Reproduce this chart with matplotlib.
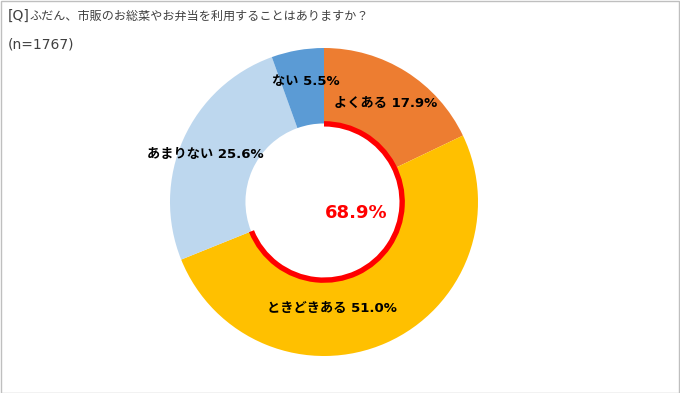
import matplotlib.pyplot as plt
from matplotlib.patches import Wedge, Rectangle

plt.rcParams['font.family'] = ['DejaVu Sans', 'Noto Sans CJK JP']

labels = ['よくある', 'ときどきある', 'あまりない', 'ない']
values = [17.9, 51.0, 25.6, 5.5]
colors = ['#ED7D31', '#FFC000', '#BDD7EE', '#5B9BD5']
highlight = 68.9  # よくある + ときどきある

# label positions in axes data coords
label_pos = [(0.40, 0.64), (0.05, -0.69), (-0.77, 0.31), (-0.12, 0.78)]

fig = plt.figure(figsize=(6.8, 3.93), dpi=100)
W, H = 680, 393
cx, cy, r = 324, 202, 154
ax = fig.add_axes([(cx - r) / W, (H - cy - r) / H, 2 * r / W, 2 * r / H])

ax.pie(values, colors=colors, startangle=90, counterclock=False, radius=1,
       wedgeprops=dict(width=0.49, linewidth=0))
ax.set_xlim(-1, 1)
ax.set_ylim(-1, 1)
ax.set_aspect('equal')
ax.axis('off')

# red ring showing the combined share
ax.add_patch(Wedge((0, 0), 0.525, 90 - highlight * 3.6, 90, width=0.035,
                   facecolor='#FF0000', linewidth=0))

for lab, v, (x, y) in zip(labels, values, label_pos):
    ax.text(x, y, f'{lab} {v:.1f}%', ha='center', va='center',
            fontsize=9.5, fontweight='bold', color='black')

ax.text(0.21, -0.07, f'{highlight:.1f}%', ha='center', va='center',
        fontsize=13, fontweight='bold', color='#FF0000')

t1 = fig.text(8 / W, 1 - 16 / H, '[Q]', fontsize=10, ha='left', va='center',
              color='#404040')
fig.canvas.draw()
bb = t1.get_window_extent()
fig.text(bb.x1 / W, 1 - 16 / H, 'ふだん、市販のお総菜やお弁当を利用することはありますか？',
         fontsize=8.7, ha='left', va='center', color='#404040',
         family='Noto Sans CJK JP')
fig.text(8 / W, 1 - 44 / H, '(n=1767)', fontsize=10, ha='left', va='center',
         color='#404040')

fig.patches.append(Rectangle((0.5 / W, 0.5 / H), 1 - 1.5 / W, 1 - 1.5 / H,
                             transform=fig.transFigure, fill=False,
                             edgecolor='#BFBFBF', linewidth=1))

fig.savefig('out.png', dpi=100)
